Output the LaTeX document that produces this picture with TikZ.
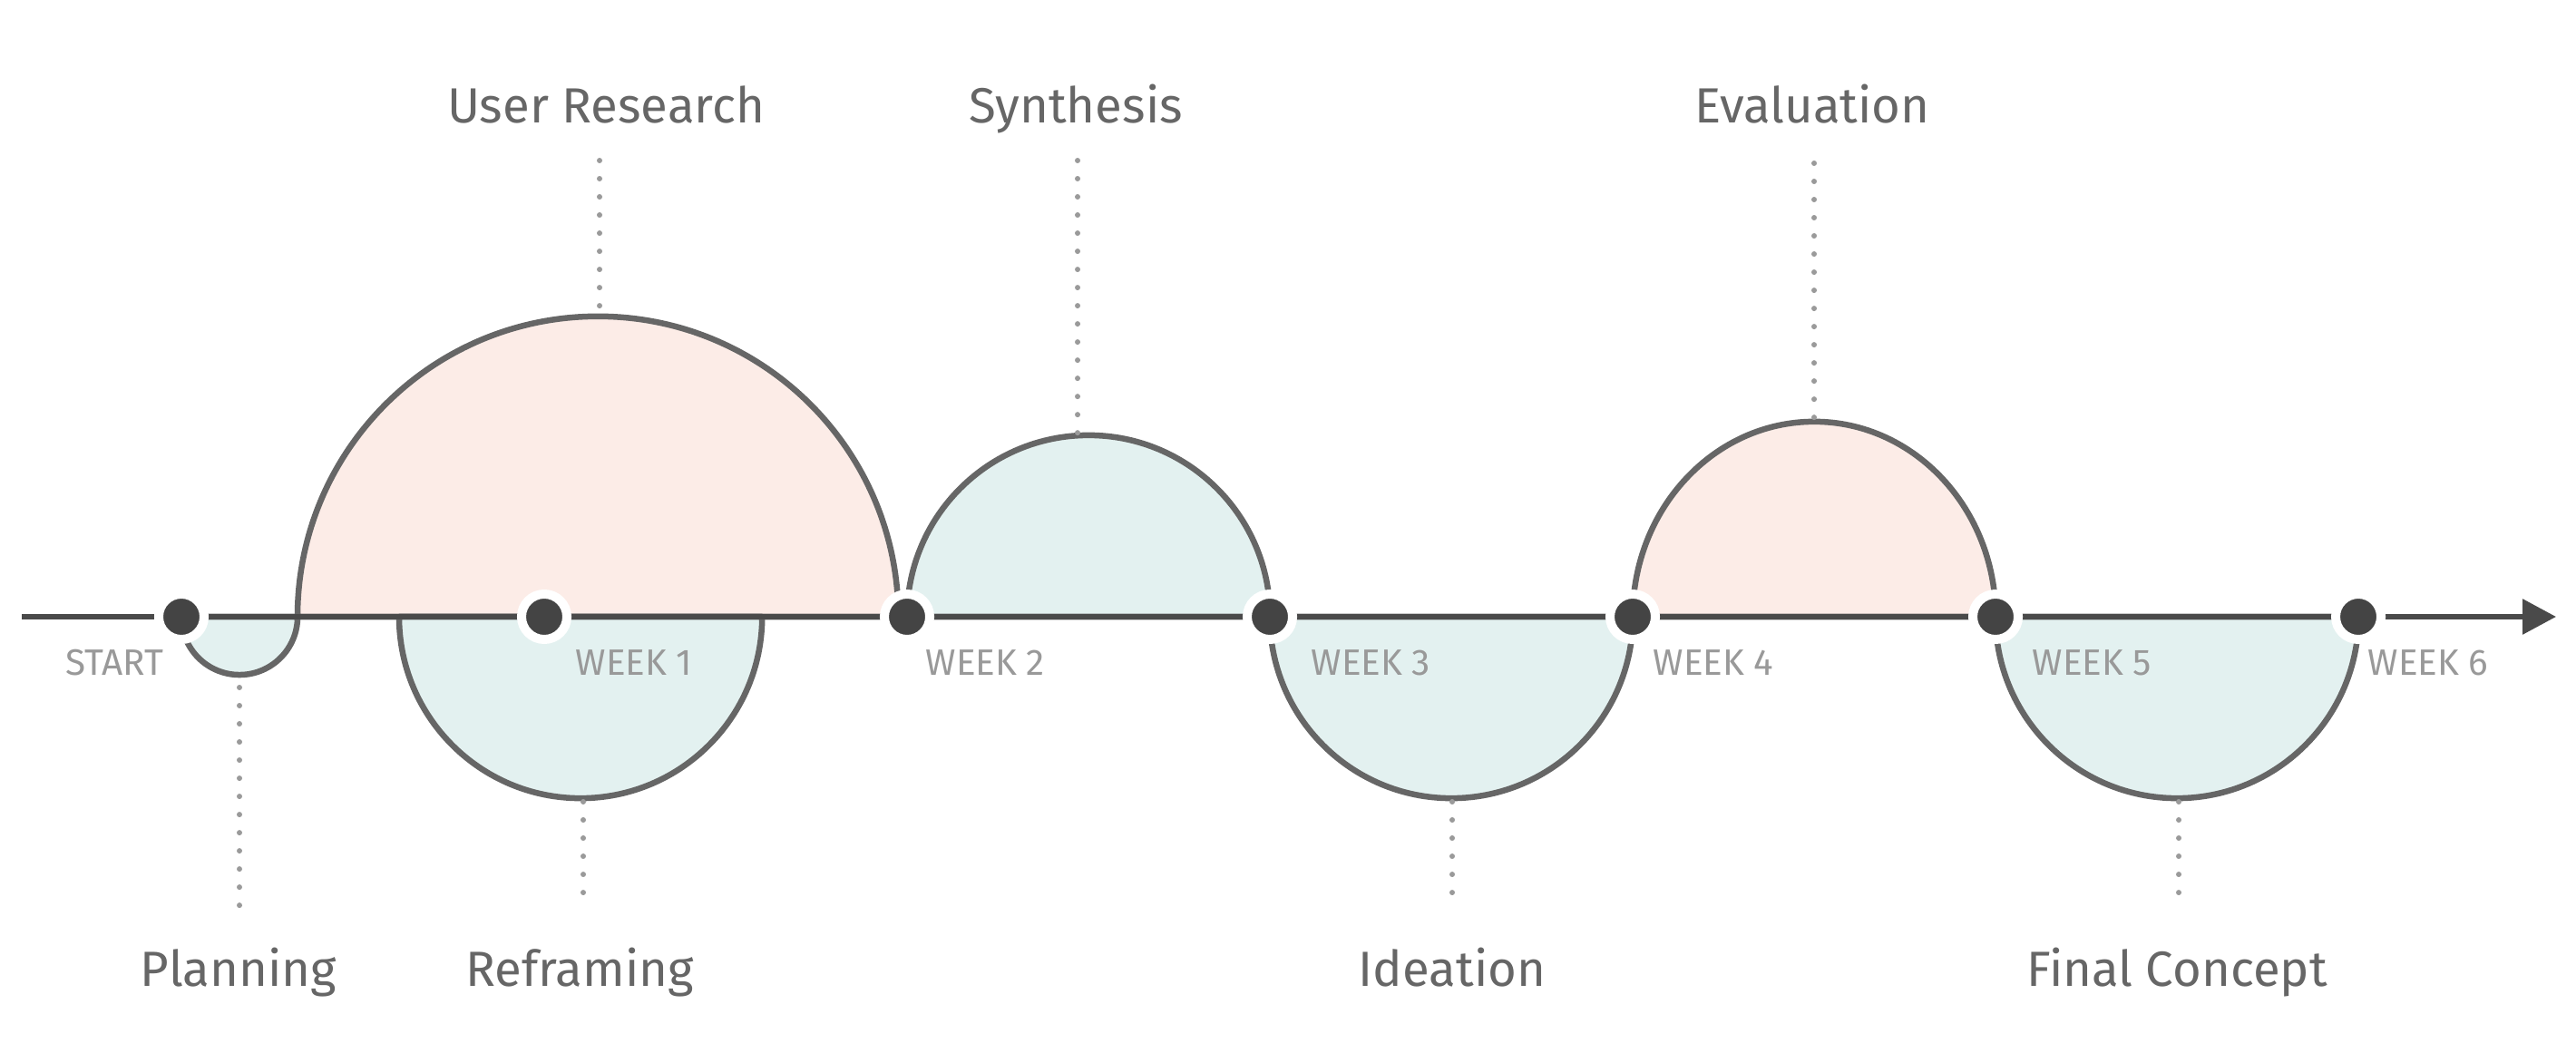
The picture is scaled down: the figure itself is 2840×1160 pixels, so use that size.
\documentclass[tikz,border=0pt]{standalone}
\usepackage{fontspec}
\setmainfont{Fira Sans}
\usetikzlibrary{arrows.meta}
\definecolor{pinkfill}{HTML}{FCECE7}
\definecolor{bluefill}{HTML}{E3F1F0}
\definecolor{arcline}{HTML}{666666}
\definecolor{basecol}{HTML}{4A4A4A}
\definecolor{dotcol}{HTML}{444444}
\definecolor{labelcol}{HTML}{666666}
\definecolor{weekcol}{HTML}{999999}
\definecolor{guidecol}{HTML}{9A9A9A}
\begin{document}
\begin{tikzpicture}[x=0.01cm,y=0.01cm,
  phase/.style={draw=arcline, line width=0.065cm, line join=round},
  pinkphase/.style={phase, fill=pinkfill},
  bluephase/.style={phase, fill=bluefill},
  axisline/.style={draw=basecol, line width=0.06cm},
  milestone/.style={circle, fill=dotcol, draw=white, line width=0.1cm, minimum size=0.5cm, inner sep=0pt},
  phaselabel/.style={text=labelcol, font=\fontsize{15.5}{18}\selectfont, anchor=base, inner sep=0pt},
  weeklabel/.style={text=weekcol, font=\fontsize{11.5}{13}\selectfont, inner sep=0pt},
  guide/.style={draw=guidecol, line width=0.06cm, line cap=round, dash pattern=on 0pt off 0.2cm}
]
\useasboundingbox (0,0) rectangle (2840,1160);
\fill[white] (0,0) rectangle (2840,1160);

% phases
\path[bluephase] (200,480) arc[start angle=180,end angle=360,radius=0.64cm] -- cycle;
\path[pinkphase] (328,480) arc[start angle=180,end angle=0,radius=3.31cm] -- cycle;
\path[bluephase] (440,480) arc[start angle=180,end angle=360,radius=2cm] -- cycle;
\path[bluephase] (1000,480) arc[start angle=180,end angle=0,radius=2cm] -- cycle;
\path[bluephase] (1400,480) arc[start angle=180,end angle=360,radius=2cm] -- cycle;
\path[pinkphase] (1800,480) arc[start angle=180,end angle=0,x radius=2cm,y radius=2.15cm] -- cycle;
\path[bluephase] (2200,480) arc[start angle=180,end angle=360,radius=2cm] -- cycle;

% axis
\coordinate (axisstart) at (24,480);
\coordinate (axisend) at (2818,480);
\draw[axisline,-{Triangle[length=0.37cm,width=0.38cm]}] (axisstart) -- (axisend);

% milestones
\node[milestone] (m0) at (200,480) {};
\node[milestone] (m1) at (600,480) {};
\node[milestone] (m2) at (1000,480) {};
\node[milestone] (m3) at (1400,480) {};
\node[milestone] (m4) at (1800,480) {};
\node[milestone] (m5) at (2200,480) {};
\node[milestone] (m6) at (2600,480) {};

% week labels
\node[weeklabel, anchor=base east] (l0) at (181,416) {START};
\node[weeklabel, anchor=base west] (l1) at (634,416) {WEEK 1};
\node[weeklabel, anchor=base west] (l2) at (1020,416) {WEEK 2};
\node[weeklabel, anchor=base west] (l3) at (1445,416) {WEEK 3};
\node[weeklabel, anchor=base west] (l4) at (1822,416) {WEEK 4};
\node[weeklabel, anchor=base west] (l5) at (2240,416) {WEEK 5};
\node[weeklabel, anchor=base west] (l6) at (2610,416) {WEEK 6};

% phase labels
\node[phaselabel] (ur) at (668,1024) {User Research};
\node[phaselabel] (syn) at (1186,1024) {Synthesis};
\node[phaselabel] (ev) at (1998,1024) {Evaluation};
\node[phaselabel] (pl) at (263,73) {Planning};
\node[phaselabel] (rf) at (639,73) {Reframing};
\node[phaselabel] (id) at (1601,73) {Ideation};
\node[phaselabel] (fc) at (2400,73) {Final Concept};

% guide ends
\coordinate (urA) at (661,983); \coordinate (urB) at (661,816);
\coordinate (synA) at (1188,983); \coordinate (synB) at (1188,680);
\coordinate (evA) at (2000,980); \coordinate (evB) at (2000,695);
\coordinate (plA) at (264,402); \coordinate (plB) at (264,160);
\coordinate (rfA) at (643,276); \coordinate (rfB) at (643,156);
\coordinate (idA) at (1601,276); \coordinate (idB) at (1601,156);
\coordinate (fcA) at (2402,276); \coordinate (fcB) at (2402,156);

\draw[guide] (urA) -- (urB);
\draw[guide] (synA) -- (synB);
\draw[guide] (evA) -- (evB);
\draw[guide] (plA) -- (plB);
\draw[guide] (rfA) -- (rfB);
\draw[guide] (idA) -- (idB);
\draw[guide] (fcA) -- (fcB);
\end{tikzpicture}
\end{document}
